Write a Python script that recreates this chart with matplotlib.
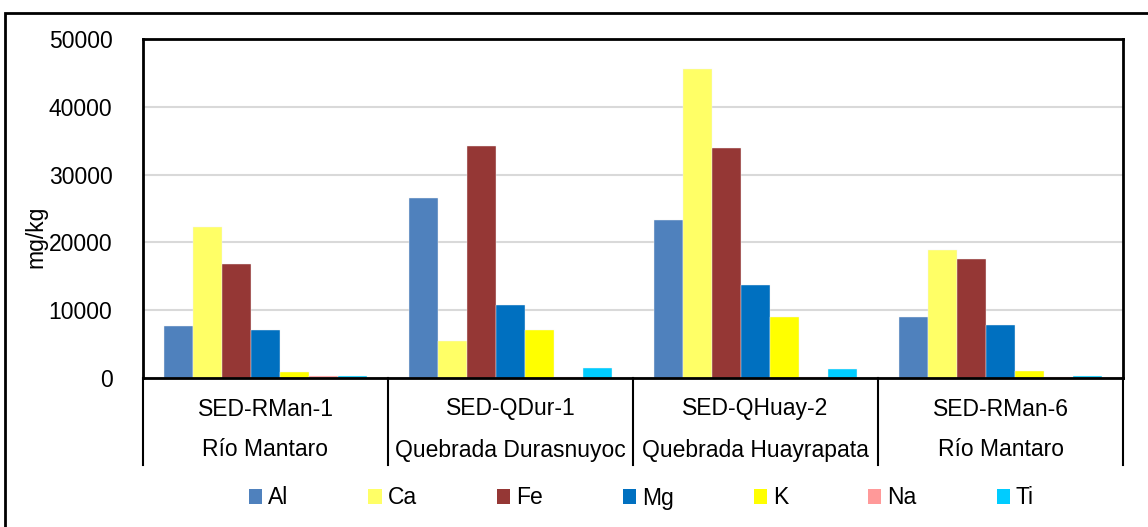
import matplotlib
matplotlib.use("Agg")
import matplotlib.pyplot as plt
from matplotlib.patches import Rectangle
from matplotlib.lines import Line2D
import numpy as np

plt.rcParams['font.family'] = ['Liberation Sans', 'DejaVu Sans']

samples = ["SED-RMan-1", "SED-QDur-1", "SED-QHuay-2", "SED-RMan-6"]
sites = ["Río Mantaro", "Quebrada Durasnuyoc", "Quebrada Huayrapata", "Río Mantaro"]
elements = ["Al", "Ca", "Fe", "Mg", "K", "Na", "Ti"]
colors = ["#4F81BD", "#FFFF66", "#953735", "#0070C0", "#FFFF00", "#FF9999", "#00CCFF"]

al = [7700, 26550, 23300, 9000]
ca = [22300, 5450, 45600, 18900]
fe = [16800, 34200, 33900, 17500]
mg = [7100, 10800, 13700, 7850]
k = [950, 7100, 9000, 1050]
na = [250, 150, 200, 200]
ti = [300, 1500, 1350, 250]
values = [al, ca, fe, mg, k, na, ti]

W, H = 1148, 527
fig = plt.figure(figsize=(W / 100, H / 100), dpi=100)
ax = fig.add_axes([143 / W, (H - 378) / H, (1123 - 143) / W, (378 - 39) / H])

n = len(elements)
bw = 0.118
x0 = np.arange(len(samples)) + 0.5
for i, (name, vals, c) in enumerate(zip(elements, values, colors)):
    ax.bar(x0 + (i - (n - 1) / 2) * bw, vals, width=bw, color=c, label=name,
           edgecolor="#F2F2F2", linewidth=0.3, zorder=3)

ax.set_xlim(0, len(samples))
ax.set_ylim(0, 50000)
ax.set_yticks(np.arange(0, 50001, 10000))
ax.yaxis.grid(True, color="#D9D9D9", linewidth=1.5, zorder=0)
ax.set_xticks([])
ax.tick_params(axis="y", length=0, pad=22, labelsize=16.5)
for s in ax.spines.values():
    s.set_linewidth(2)
    s.set_color("black")
    s.set_zorder(5)

# category table below the plot
trans = ax.get_xaxis_transform()
for i, (smp, site) in enumerate(zip(samples, sites)):
    ax.text(i + 0.5, -31 / 339, smp, transform=trans, ha="center", va="center", fontsize=16.5)
    ax.text(i + 0.5, -72 / 339, site, transform=trans, ha="center", va="center", fontsize=16.5)
for xb in range(len(samples) + 1):
    ax.add_line(Line2D([xb, xb], [0, -87 / 339], transform=trans, color="black",
                       linewidth=1.5, clip_on=False))

fig.text(36 / W, 1 - 237 / H, "mg/kg", rotation=90, ha="center", va="center", fontsize=16.5)

leg = fig.legend(loc="center left", bbox_to_anchor=(249 / W, 1 - 498 / H), ncol=7,
                 frameon=False, fontsize=16.5, handlelength=0.57, handleheight=0.6,
                 handletextpad=0.26, columnspacing=3.5, borderpad=0, borderaxespad=0)
for h in leg.legend_handles:
    h.set_edgecolor("none")

# outer frame
fig.patches.append(Rectangle((5 / W, -0.05), 1.1, 1 - 13 / H + 0.05, transform=fig.transFigure,
                             fill=False, edgecolor="black", linewidth=2, clip_on=False))

fig.savefig("out.png", dpi=100)
